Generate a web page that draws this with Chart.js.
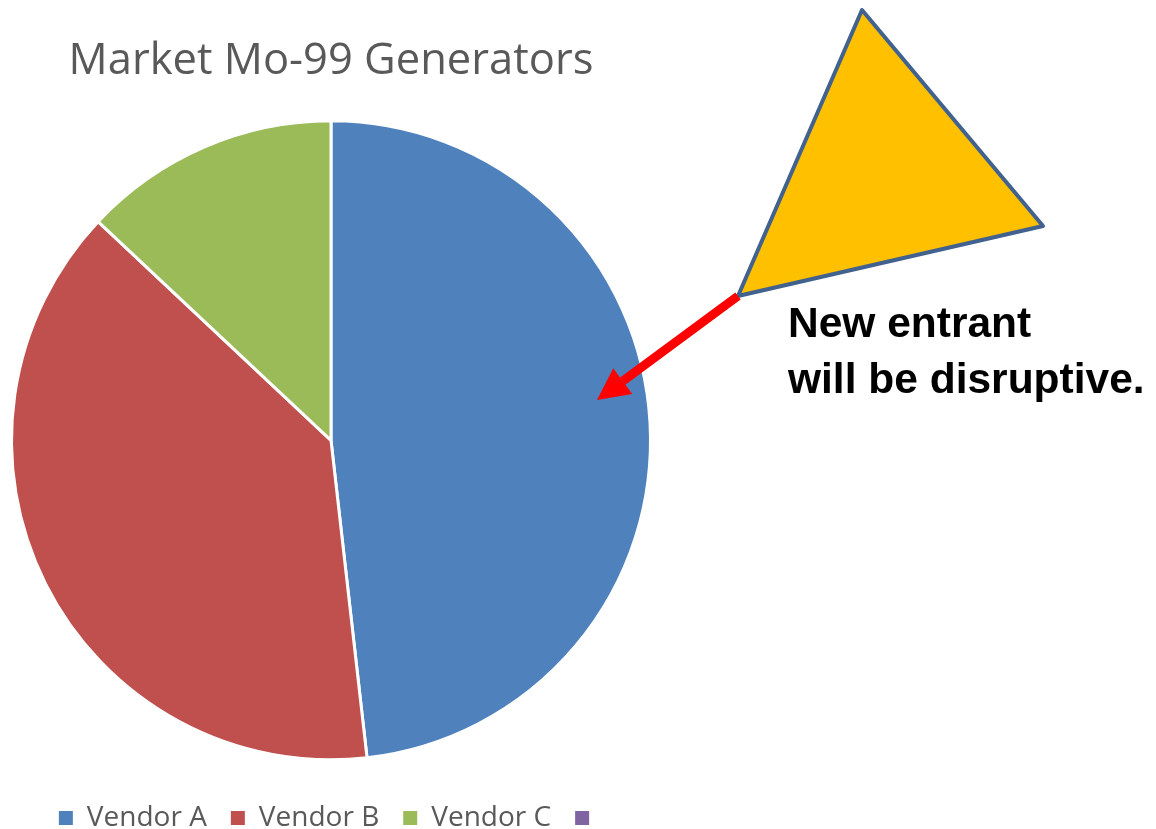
<!DOCTYPE html>
<html><head><meta charset="utf-8">
<script src="https://cdn.jsdelivr.net/npm/chart.js@4/dist/chart.umd.min.js"></script>
<style>html,body{margin:0;padding:0;background:#fff;overflow:hidden;} #wrap{width:1156px;height:829px;position:relative;overflow:hidden;}</style>
</head><body><div id="wrap"><canvas id="c" width="1156" height="842"></canvas></div>
<script>
const categories = ['Vendor A', 'Vendor B', 'Vendor C', ''];
const shares = [48.2, 38.8, 13.0, 0];
const sliceColors = ['#4F81BD', '#C0504D', '#9BBB59', '#8064A2'];
const titleText = 'Market Mo-99 Generators';
const calloutLines = ['New entrant', 'will be disruptive.'];

const calloutPlugin = {
  id: 'callout',
  afterDraw(chart) {
    const ctx = chart.ctx;
    ctx.save();
    // triangle
    ctx.beginPath();
    ctx.moveTo(862, 10);
    ctx.lineTo(1043, 226);
    ctx.lineTo(738, 296);
    ctx.closePath();
    ctx.fillStyle = '#FFC000';
    ctx.fill();
    ctx.lineWidth = 4;
    ctx.lineJoin = 'round';
    ctx.strokeStyle = '#41618E';
    ctx.stroke();
    // arrow
    const x0 = 738, y0 = 296, x1 = 597, y1 = 400;
    const ang = Math.atan2(y1 - y0, x1 - x0);
    const headLen = 32, headHalf = 16;
    const bx = x1 - headLen * Math.cos(ang), by = y1 - headLen * Math.sin(ang);
    ctx.beginPath();
    ctx.moveTo(x0, y0);
    ctx.lineTo(bx, by);
    ctx.strokeStyle = '#FF0000';
    ctx.lineWidth = 9;
    ctx.lineCap = 'butt';
    ctx.stroke();
    ctx.beginPath();
    ctx.moveTo(x1, y1);
    ctx.lineTo(bx + headHalf * Math.sin(ang), by - headHalf * Math.cos(ang));
    ctx.lineTo(bx - headHalf * Math.sin(ang), by + headHalf * Math.cos(ang));
    ctx.closePath();
    ctx.fillStyle = '#FF0000';
    ctx.fill();
    // text
    ctx.fillStyle = '#000000';
    ctx.font = 'bold 42.5px "Liberation Sans", Arial, sans-serif';
    ctx.textAlign = 'left';
    ctx.textBaseline = 'alphabetic';
    ctx.fillText(calloutLines[0], 788, 337);
    ctx.fillText(calloutLines[1], 788, 393);
    ctx.restore();
  }
};

new Chart(document.getElementById('c'), {
  type: 'pie',
  data: {
    labels: categories,
    datasets: [{
      data: shares,
      backgroundColor: sliceColors,
      borderColor: '#FFFFFF',
      borderWidth: 3,
      radius: 319.5
    }]
  },
  options: {
    responsive: false,
    animation: false,
    layout: { padding: { top: 0, right: 494, left: 0, bottom: 0 } },
    plugins: {
      title: {
        display: true,
        text: titleText,
        color: '#595959',
        font: { family: '"Open Sans", sans-serif', size: 43.5, weight: 'normal' },
        padding: { top: 35.5, bottom: 13 }
      },
      legend: {
        display: true,
        position: 'bottom',
        labels: {
          color: '#595959',
          font: { family: '"Open Sans", sans-serif', size: 28 },
          boxWidth: 14,
          boxHeight: 14,
          padding: 24,
          generateLabels(chart) {
            const items = Chart.overrides.pie.plugins.legend.labels.generateLabels(chart);
            items.forEach(it => { it.lineWidth = 0; it.strokeStyle = 'rgba(0,0,0,0)'; });
            return items;
          }
        }
      },
      tooltip: { enabled: false }
    }
  },
  plugins: [calloutPlugin]
});
</script>
</body></html>
